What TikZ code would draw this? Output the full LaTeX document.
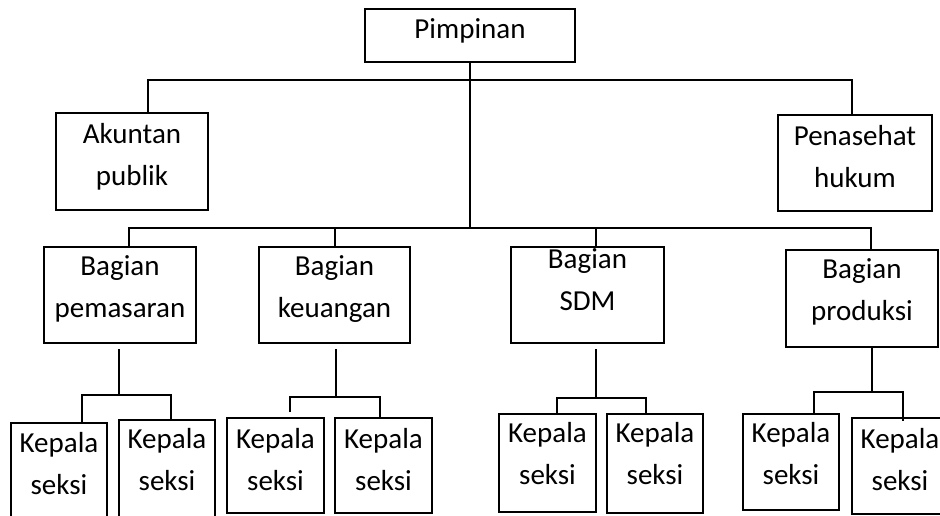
\documentclass[tikz,border=0pt]{standalone}
\usepackage{fontspec}
\setmainfont{Carlito}

\begin{document}
\begin{tikzpicture}[x=0.5pt,y=-0.5pt,
    unit/.style={draw, line width=1pt, align=center, inner sep=0pt, text depth=0pt,
      font=\fontsize{14.5}{21}\selectfont},
    seksi/.style={unit, minimum width=48pt},
    link/.style={line width=1pt}]
      \useasboundingbox (0,0) rectangle (940,515);
      \clip (0,0) rectangle (940,515);
      \node[unit, minimum width=105pt, minimum height=26.5pt, text height=10pt, text depth=7.5pt] (pim) at (470,35.5) {Pimpinan};
      \node[unit, minimum width=76pt, minimum height=48.5pt, text height=23.5pt] (akun) at (132,161.5) {Akuntan\\publik};
      \node[unit, minimum width=77pt, minimum height=48pt, text height=24pt] (pen) at (855,163) {Penasehat\\hukum};
      \node[unit, minimum width=76pt, minimum height=48pt, text height=22pt] (pem) at (120,295) {Bagian\\pemasaran};
      \node[unit, minimum width=75.5pt, minimum height=48pt, text height=22pt] (keu) at (334.5,295) {Bagian\\keuangan};
      \node[unit, minimum width=76.5pt, minimum height=48pt, text height=15pt] (sdm) at (587.5,295) {Bagian\\SDM};
      \node[unit, minimum width=76pt, minimum height=48.5pt, text height=21.5pt] (pro) at (862,298.5) {Bagian\\produksi};
      \node[seksi, minimum height=53.5pt, text height=17.5pt] (kpem1) at (59,476.5) {Kepala\\seksi};
      \node[seksi, minimum height=55pt, text height=15pt] (kpem2) at (167,475) {Kepala\\seksi};
      \node[seksi, minimum width=48.5pt, minimum height=47.5pt, text height=24.5pt] (kkeu1) at (275.5,465.5) {Kepala\\seksi};
      \node[seksi, minimum width=48.5pt, minimum height=47.5pt, text height=24.5pt] (kkeu2) at (383.5,465.5) {Kepala\\seksi};
      \node[seksi, minimum width=48.5pt, minimum height=49pt, text height=21pt] (ksdm1) at (547.5,463) {Kepala\\seksi};
      \node[seksi, minimum height=49.5pt, text height=20.5pt] (ksdm2) at (655,463.5) {Kepala\\seksi};
      \node[seksi, minimum height=48pt, text height=22pt] (kpro1) at (791,462) {Kepala\\seksi};
      \node[seksi, minimum height=48pt, text height=24pt] (kpro2) at (900,466) {Kepala\\seksi};
      \coordinate (top) at (470,80);
      \coordinate (mid) at (470,228);
      \coordinate (dsdm) at (596,228);
      \coordinate (jpem) at (119,395);
      \coordinate (jkeu) at (336,397);
      \coordinate (jsdm) at (596,398);
      \coordinate (jpro) at (872,392);
      \draw[link] (pim) -- (mid);
      \draw[link] ([xshift=8pt]akun.north) |- (top) -| ([xshift=-1.5pt]pen.north);
      \draw[link] ([xshift=4.5pt]pem.north) |- (mid) -| ([xshift=4.5pt]pro.north);
      \draw[link] (keu.north) -- (keu.north |- mid);
      \draw[link] (sdm.north -| dsdm) -- (dsdm);
      \draw[link, shorten <=2.5pt] (pem.south -| jpem) -- (jpem);
      \draw[link, shorten <=2.5pt] (keu.south -| jkeu) -- (jkeu);
      \draw[link, shorten <=2.5pt] (sdm.south -| jsdm) -- (jsdm);
      \draw[link] (pro.south -| jpro) -- (jpro);
      \draw[link] ([xshift=11.5pt]kpem1.north) |- (jpem) -| ([xshift=2pt]kpem2.north);
      \draw[link, shorten <=2.5pt] ([xshift=7.25pt]kkeu1.north) |- (jkeu) -| ([xshift=-1.75pt]kkeu2.north);
      \draw[link] ([xshift=4.75pt]ksdm1.north) |- (jsdm) -| ([xshift=-4.5pt]ksdm2.north);
      \draw[link, shorten >=-2pt] ([xshift=11.5pt]kpro1.north) |- (jpro) -| ([xshift=1.5pt]kpro2.north);
    \end{tikzpicture}
\end{document}
